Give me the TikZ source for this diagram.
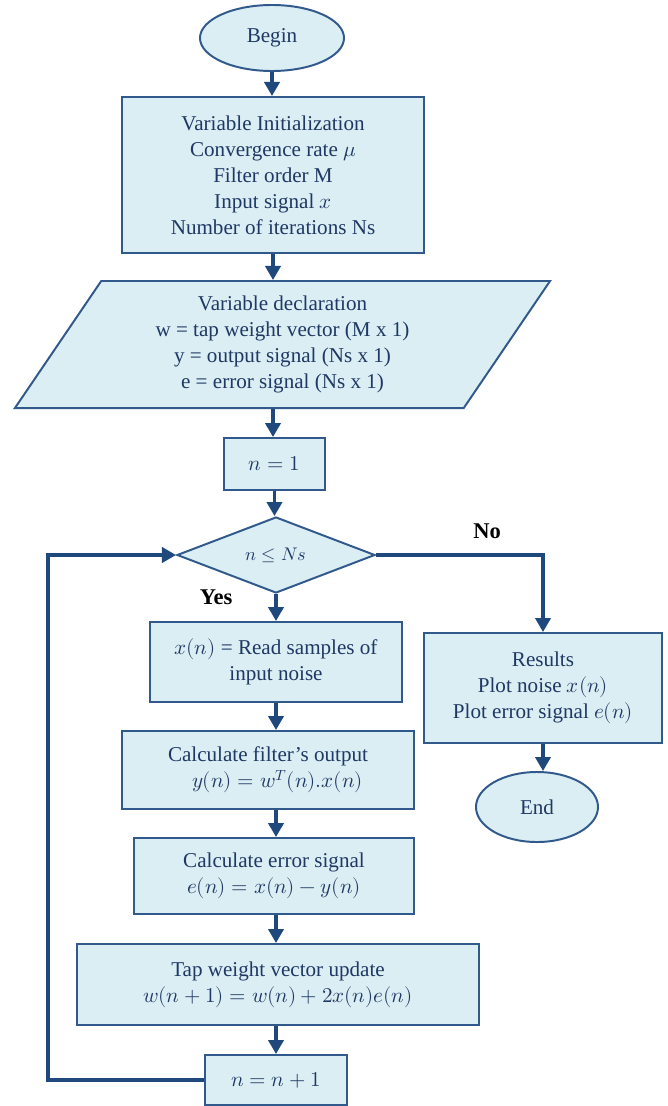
\documentclass[tikz,border=0pt]{standalone}
\usepackage{amsmath, unicode-math}
\setmainfont{Liberation Serif}
\setmathfont{Latin Modern Math}
\usetikzlibrary{shapes.geometric, arrows.meta}
\definecolor{boxfill}{HTML}{DAEEF3}
\definecolor{boxline}{HTML}{31598C}
\definecolor{flowline}{HTML}{1F497D}
\definecolor{boxtext}{HTML}{1F3864}
\tikzset{
    box/.style={draw=boxline, fill=boxfill, line width=1.4pt, text=boxtext, align=center, inner sep=2pt},
    flow/.style={draw=flowline, line width=2.4pt, -{Triangle[width=0.38cm, length=0.35cm]}},
    answer/.style={font=\fontsize{16}{19}\selectfont\bfseries}
}

\begin{document}
\begin{tikzpicture}[x=0.025cm, y=-0.025cm, font=\fontsize{15}{18.5}\selectfont]
    \useasboundingbox (0,0) rectangle (667,1106) ;
    % boxes
    \node[box, ellipse, minimum width=3.6cm, minimum height=1.65cm] (begin) at (272,38) {Begin} ;
    \node[box, minimum width=7.55cm, minimum height=3.9cm] (init) at (273,175) {Variable Initialization\\ Convergence rate $\mu$\\ Filter order M\\ Input signal $x$\\ Number of iterations Ns} ;
    \node[box, trapezium, trapezium left angle=50, trapezium right angle=130, trapezium stretches body, minimum width=13.375cm, minimum height=3.175cm] (decl) at (282.5,344.5) {Variable declaration\\ w = tap weight vector (M x 1)\\ y = output signal (Ns x 1)\\ e = error signal (Ns x 1)} ;
    \node[box, minimum width=2.525cm, minimum height=1.3cm] (start) at (274.5,464) {$n = 1$} ;
    \node[box, diamond, aspect=2.6, minimum width=4.95cm, minimum height=1.9cm, inner sep=0pt, font=\fontsize{13}{15}\selectfont] (test) at (276,555) {$n \leq Ns$} ;
    \node[box, minimum width=6.3cm, minimum height=2cm] (read) at (276,662) {$x(n)$ = Read samples of\\ input noise} ;
    \node[box, minimum width=7.3cm, minimum height=1.95cm] (filt) at (268,770) {Calculate filter's output\\ \hspace*{0.9em}$y(n) = w^T(n).x(n)$} ;
    \node[box, minimum width=7cm, minimum height=1.9cm] (err) at (274,876) {Calculate error signal\\ $e(n) = x(n) - y(n)$} ;
    \node[box, minimum width=10.05cm, minimum height=2.025cm] (tap) at (278,984.5) {Tap weight vector update\\ $w(n+1) = w(n) + 2x(n)e(n)$} ;
    \node[box, minimum width=3.55cm, minimum height=1.25cm] (inc) at (276,1080) {$n = n + 1$} ;
    \node[box, minimum width=5.95cm, minimum height=2.75cm] (res) at (543,688) {Results\\ Plot noise $x(n)$\\ Plot error signal $e(n)$} ;
    \node[box, ellipse, minimum width=3.05cm, minimum height=1.75cm] (fin) at (537,807) {End} ;
    \node[answer] (yes) at (216,597) {Yes} ;
    \node[answer] (no) at (487,531) {No} ;
    % arrows
    \draw[flow] (begin.south) -- (begin.south |- init.north) ;
    \draw[flow] (init.south) -- (init.south |- decl.north) ;
    \draw[flow] (init.south |- decl.south) -- (init.south |- start.north) ;
    \draw[flow] (start.south) -- (start.south |- test.north) ;
    \draw[flow] (test.south) -- (test.south |- read.north) ;
    \draw[flow] (read.south) -- (read.south |- filt.north) ;
    \draw[flow] (read.south |- filt.south) -- (read.south |- err.north) ;
    \draw[flow] (read.south |- err.south) -- (read.south |- tap.north) ;
    \draw[flow] (read.south |- tap.south) -- (read.south |- inc.north) ;
    \draw[flow] (test.east) -| (res.north) ;
    \draw[flow] (res.south) -- (res.south |- fin.north) ;
    \coordinate (loop) at (48,1080) ;
    \draw[flow] (inc.west) -- (loop) |- (test.west) ;
\end{tikzpicture}
\end{document}
